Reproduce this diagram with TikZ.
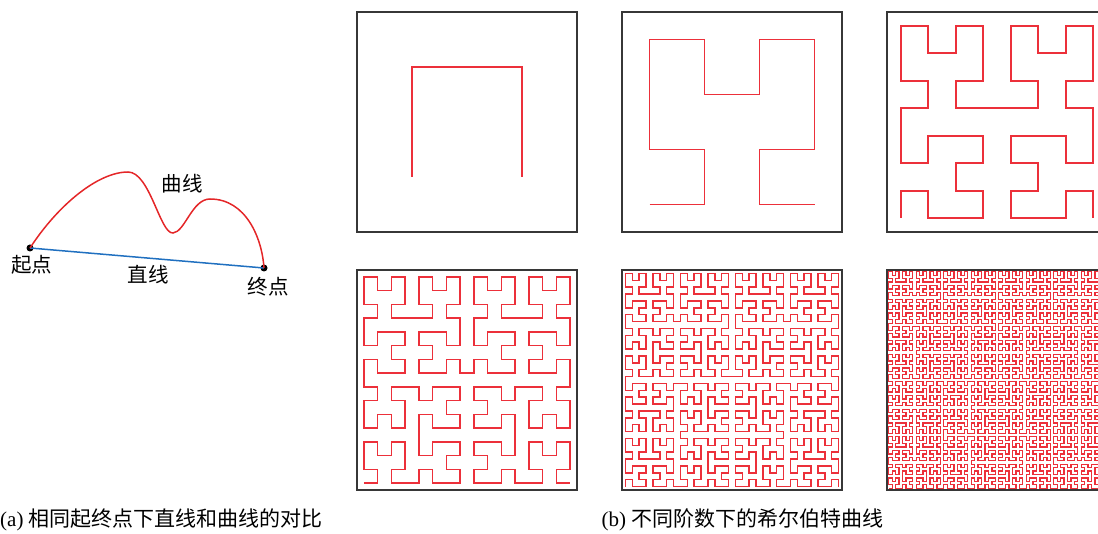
\documentclass[tikz,border=0pt]{standalone}
\usepackage{fontspec}
\setmainfont{Liberation Serif}
\newfontfamily\cjk{Noto Sans CJK SC}
\usetikzlibrary{lindenmayersystems}
\definecolor{curvered}{RGB}{228,38,40}
\definecolor{hred}{RGB}{236,48,58}
\definecolor{lineblue}{RGB}{32,112,192}
\definecolor{framegray}{RGB}{55,55,55}
\pgfdeclarelindenmayersystem{Hilbert curve}{
  \rule{L -> +RF-LFL-FR+}
  \rule{R -> -LF+RFR+FL-}
}
\tikzset{
  boxframe/.style={draw=framegray, line width=1.6pt},
  hilb/.style={draw=hred, line width=1.7pt, line join=miter},
  lbl/.style={inner sep=0pt, font=\fontsize{20.5}{24}\selectfont\cjk},
  captext/.style={inner sep=0pt, anchor=base west, font=\fontsize{21}{24}\selectfont},
  enddot/.style={circle, fill=black, inner sep=0pt, minimum size=7pt}
}
\begin{document}
\begin{tikzpicture}[x=1pt,y=1pt]
\useasboundingbox (0,0) rectangle (1098,-534);
\clip (0,0) rectangle (1098,-534);
% (a) straight line vs curve
\node[enddot] (s) at (30,-248) {};
\node[enddot] (e) at (264,-268) {};
\draw[lineblue, line width=1.5pt] (s.center) -- (e.center);
\draw[curvered, line width=1.5pt] (s.center) .. controls (58,-205) and (98,-172) .. (128,-172)
  .. controls (150,-172) and (160,-234) .. (173,-233)
  .. controls (185,-232) and (192,-199) .. (210,-199)
  .. controls (246,-199) and (262,-238) .. (e.center);
\node[lbl] (ls) at (32,-265) {起点};
\node[lbl] (le) at (268,-287) {终点};
\node[lbl] (lz) at (148,-275) {直线};
\node[lbl] (lq) at (182,-184) {曲线};
% frames
\foreach \x/\y in {357/12,622/12,887/12,357/270,622/270,887/270}{
  \path[boxframe] (\x,-\y) rectangle ++(220,-220);
}
% Hilbert curves
\begin{scope}[shift={(412,-177)}]
\draw[hilb, l-system={Hilbert curve, axiom=L, order=1, step=110pt, angle=90}] (0,0) lindenmayer system;
\end{scope}
\begin{scope}[shift={(649.5,-204.5)}]
\draw[hilb, l-system={Hilbert curve, axiom=L, order=2, step=55pt, angle=90}] (0,0) lindenmayer system;
\end{scope}
\begin{scope}[shift={(900.75,-218.25)}]
\draw[hilb, l-system={Hilbert curve, axiom=L, order=3, step=27.5pt, angle=90}] (0,0) lindenmayer system;
\end{scope}
\begin{scope}[shift={(363.875,-483.125)}]
\draw[hilb, l-system={Hilbert curve, axiom=L, order=4, step=13.75pt, angle=90}] (0,0) lindenmayer system;
\end{scope}
\begin{scope}[shift={(625.4375,-486.5625)}]
\draw[hilb, line width=1.5pt, l-system={Hilbert curve, axiom=L, order=5, step=6.875pt, angle=90}] (0,0) lindenmayer system;
\end{scope}
\begin{scope}[shift={(888.71875,-488.28125)}]
\draw[hilb, line width=1.3pt, l-system={Hilbert curve, axiom=L, order=6, step=3.4375pt, angle=90}] (0,0) lindenmayer system;
\end{scope}
% captions
\node[captext] (ca) at (0,-526) {(a) {\cjk 相同起终点下直线和曲线的对比}};
\node[captext] (cb) at (601.5,-526) {(b) {\cjk 不同阶数下的希尔伯特曲线}};
\end{tikzpicture}
\end{document}
